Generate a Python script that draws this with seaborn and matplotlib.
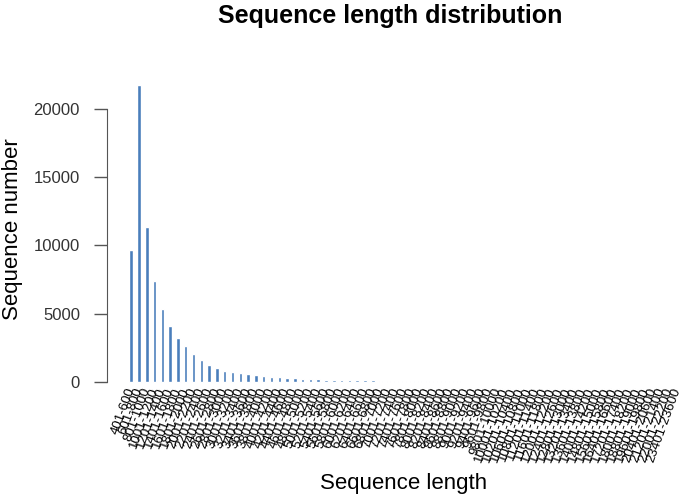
import numpy as np
import pandas as pd
import matplotlib
matplotlib.use("Agg")
import matplotlib.pyplot as plt
import seaborn as sns

# bin starts (200 bp bins), counts
bin_starts = list(range(401, 10401, 200)) + [10601, 10801, 11201, 11601, 12001, 12401, 12801,
                                             13201, 13601, 14001, 14801, 15601, 16401, 17201,
                                             18001, 18801, 19601, 20401, 21201, 22001, 23401]
counts = [9650, 21760, 11320, 7390, 5330, 4060, 3180, 2620, 2010, 1590,
          1225, 1030, 805, 690, 615, 565, 470, 395, 365, 345,
          270, 250, 220, 200, 175, 150, 145, 125, 120, 110,
          100, 95, 85, 75, 60, 50, 45, 40, 34, 30,
          26, 22, 19, 16, 14, 12, 10, 9, 8, 7,
          6, 5, 5, 4, 4, 3, 3, 3, 2, 2, 2, 2, 1, 1, 1, 1, 1, 1, 1, 1, 1]
labels = [f"{s}-{s + 199}" for s in bin_starts]
y_ticks = [0, 5000, 10000, 15000, 20000]

df = pd.DataFrame({"length": labels, "number": counts})

sns.set_style("white")
plt.rcParams['font.family'] = ['Liberation Sans', 'DejaVu Sans']
plt.rcParams['text.color'] = 'black'

fig = plt.figure(figsize=(6.86, 4.99), dpi=100)
ax = fig.add_axes([107 / 686, 0.2112, 594 / 686, 0.6423])

sns.barplot(data=df, x="length", y="number", color="#4a7ebb", saturation=1,
            width=0.45, ax=ax)

ax.set_xlim(-3.1, len(labels) - 1 + 3.1)
ax.set_ylim(-870, 22630)
ax.set_xlabel("")
ax.set_ylabel("")

# R style axis
for s in ["top", "right", "bottom"]:
    ax.spines[s].set_visible(False)
ax.spines["left"].set_bounds(0, 20000)
ax.spines["left"].set_color("#555555")
ax.set_yticks(y_ticks)
ax.set_yticklabels([str(v) for v in y_ticks], fontsize=12, color="#333333")
ax.tick_params(axis="y", left=True, length=9.5, width=1, color="#555555", pad=10)

ax.set_xticks(range(len(labels)))
ax.set_xticklabels(labels, rotation=70, ha="right", va="center",
                   rotation_mode="anchor", fontsize=9.5, color="black")
ax.tick_params(axis="x", bottom=False, length=0, pad=-4)

fig.text(390 / 686, 1 - 16 / 499, "Sequence length distribution",
         ha="center", va="center", fontsize=18, fontweight="bold")
fig.text(13 / 686, 1 - 229 / 499, "Sequence number", rotation=90,
         ha="center", va="center", fontsize=16)
fig.text(404 / 686, 1 - 483 / 499, "Sequence length",
         ha="center", va="center", fontsize=16)

fig.savefig("out.png", dpi=100)
